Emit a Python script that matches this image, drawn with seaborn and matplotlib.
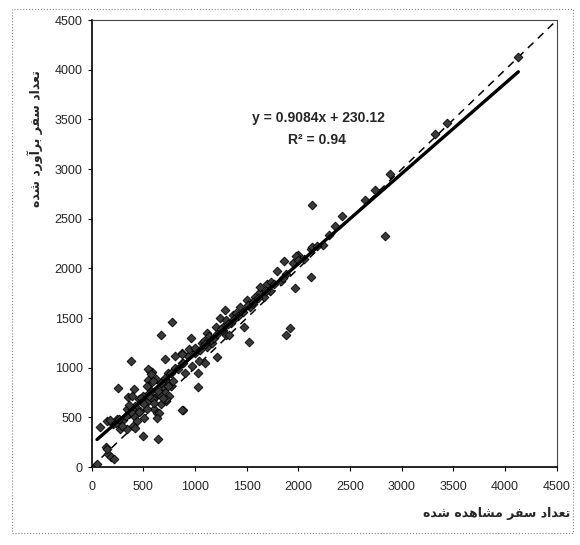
import numpy as np
import pandas as pd
import matplotlib
matplotlib.use('Agg')
import matplotlib.pyplot as plt
import seaborn as sns

# observed vs estimated trips
observed = [52, 140, 155, 184, 216, 153,
            79, 145, 210, 273, 404, 358, 342, 424, 474, 523, 571, 545, 624, 561,
            586, 739, 805, 871, 936, 1004, 1069, 1034, 967, 902, 837, 769, 703, 605,
            538, 472, 406, 308, 243, 177, 437, 503, 602, 668, 751,
            231, 263, 329, 343, 423, 395, 363, 458, 508, 540, 590, 605, 636, 719,
            655, 545, 594, 690, 739, 787, 879, 295, 378, 461, 494, 558,
            256, 351, 384, 709, 675, 781, 961, 493, 645, 878, 717, 650, 633, 1029,
            545, 576, 638, 536, 411, 394, 474, 686, 1031, 1098, 1212, 1117, 1166,
            1003, 887, 807, 771, 706, 736, 672, 1266, 1298,
            1120, 1086, 1287, 1237, 1367, 1478, 1302, 1203, 1331, 1524, 938, 873,
            872, 1004, 1136, 1267, 1400, 1531, 1663, 1729, 1828, 1878, 1434, 1500,
            1515, 1564, 1582, 1631, 1632, 1698, 1731, 1798,
            1150, 1180, 1250, 1350, 1420, 1460, 1100, 1050,
            1210, 1320, 1380, 1560, 1610, 1690, 1760, 1850,
            2129, 2837, 2122, 1966, 1877, 1923, 3434, 3318, 2888, 2739, 2640, 2425,
            2358, 2241, 2126, 1996, 1864, 2127, 1979, 4128,
            2050, 2180, 2300, 1950, 2000]
estimated = [35, 202, 134, 100, 82, 185,
             408, 459, 437, 385, 416, 536, 587, 619, 669, 718, 768, 880, 886, 972,
             955, 951, 1001, 1050, 1116, 1183, 1249, 1063, 1014, 948, 983, 815, 765, 700,
             651, 567, 518, 470, 488, 472, 466, 499, 582, 631, 713,
             440, 480, 515, 380, 395, 585, 620, 550, 635, 585, 685, 650, 548, 665,
             735, 820, 870, 818, 852, 866, 575, 418, 552, 688, 720, 718,
             799, 706, 1066, 1087, 1332, 1459, 1295, 313, 283, 576, 681, 548, 497, 809,
             989, 938, 767, 820, 789, 719, 698, 698, 945, 1046, 1111, 1214, 1248,
             1149, 1050, 1119, 951, 901, 815, 851, 1380, 1329,
             1350, 1265, 1583, 1500, 1530, 1409, 1481, 1415, 1328, 1256, 1184, 1151,
             1134, 1200, 1315, 1414, 1547, 1610, 1710, 1777, 1876, 1943, 1613, 1680,
             1629, 1646, 1712, 1762, 1813, 1845, 1861, 1979,
             1280, 1300, 1390, 1450, 1520, 1560, 1240, 1180,
             1340, 1440, 1490, 1660, 1700, 1770, 1840, 1900,
             2642, 2323, 1914, 1805, 1334, 1400, 3461, 3351, 2954, 2789, 2689, 2524,
             2424, 2240, 2192, 2137, 2079, 2216, 2127, 4131,
             2100, 2230, 2340, 2050, 2080]

# trendline printed on the chart
slope = 0.9084
intercept = 230.12

ticks = [0, 500, 1000, 1500, 2000, 2500, 3000, 3500, 4000, 4500]

xlabel_fa = 'تعداد سفر مشاهده شده'
ylabel_fa = 'تعداد سفر برآورد شده'

# minimal persian shaping (matplotlib has no arabic text layout)
DUAL = {'ب': (0xFE8F, 0xFE90, 0xFE91, 0xFE92), 'ت': (0xFE95, 0xFE96, 0xFE97, 0xFE98),
        'س': (0xFEB1, 0xFEB2, 0xFEB3, 0xFEB4), 'ش': (0xFEB5, 0xFEB6, 0xFEB7, 0xFEB8),
        'ع': (0xFEC9, 0xFECA, 0xFECB, 0xFECC), 'ف': (0xFED1, 0xFED2, 0xFED3, 0xFED4),
        'م': (0xFEE1, 0xFEE2, 0xFEE3, 0xFEE4), 'ه': (0xFEE9, 0xFEEA, 0xFEEB, 0xFEEC)}
RIGHT = {'ا': (0xFE8D, 0xFE8E), 'آ': (0xFE81, 0xFE82), 'د': (0xFEA9, 0xFEAA),
         'ر': (0xFEAD, 0xFEAE), 'و': (0xFEED, 0xFEEE)}


def shape(text):
    out = []
    for i, ch in enumerate(text):
        prev = text[i - 1] if i > 0 else ''
        nxt = text[i + 1] if i + 1 < len(text) else ''
        jp = prev in DUAL
        if ch in DUAL:
            jn = nxt in DUAL or nxt in RIGHT
            iso, fin, ini, med = DUAL[ch]
            c = med if (jp and jn) else fin if jp else ini if jn else iso
            out.append(chr(c))
        elif ch in RIGHT:
            iso, fin = RIGHT[ch]
            out.append(chr(fin if jp else iso))
        else:
            out.append(ch)
    return ''.join(reversed(out))


df = pd.DataFrame({'observed': observed, 'estimated': estimated})

sns.set_style('white')
plt.rcParams['font.family'] = ['Liberation Sans', 'DejaVu Sans']

fig = plt.figure(figsize=(5.8, 5.45), dpi=100)
ax = fig.add_axes([0.158, 0.143, 0.802, 0.82])

# y = x reference
diag = pd.DataFrame({'x': [0, 4500], 'y': [0, 4500]})
sns.lineplot(data=diag, x='x', y='y', ax=ax, color='black', lw=1.1,
             linestyle=(0, (5, 4)), zorder=2)

sns.scatterplot(data=df, x='observed', y='estimated', ax=ax, marker='D', s=20,
                color='#3a3a3a', edgecolor='black', linewidth=0.6, zorder=3)

# fitted trendline over the data range
xs = np.array([min(observed), max(observed)])
trend = pd.DataFrame({'x': xs, 'y': slope * xs + intercept})
sns.lineplot(data=trend, x='x', y='y', ax=ax, color='black', lw=2.4, zorder=4)

ax.set_xlim(0, 4500)
ax.set_ylim(0, 4500)
ax.set_xticks(ticks)
ax.set_yticks(ticks)
ax.set_xlabel('')
ax.set_ylabel('')
ax.tick_params(axis='both', labelsize=9, length=3, width=0.8, direction='out',
               color='black', left=True, bottom=True)
ax.tick_params(axis='x', pad=7)
for s in ['left', 'bottom']:
    ax.spines[s].set_color('black')
    ax.spines[s].set_linewidth(1.2)
for s in ['top', 'right']:
    ax.spines[s].set_color('#444444')
    ax.spines[s].set_linewidth(0.8)

ax.text(0.488, 0.781, 'y = 0.9084x + 230.12', transform=ax.transAxes,
        ha='center', va='center', fontsize=10, fontweight='bold')
ax.text(0.484, 0.732, 'R² = 0.94', transform=ax.transAxes,
        ha='center', va='center', fontsize=10, fontweight='bold')

fig.text(0.06, 0.745, shape(ylabel_fa), rotation=90, ha='center', va='center',
         fontsize=9, fontweight='bold', family=['DejaVu Sans'])
fig.text(0.983, 0.058, shape(xlabel_fa), ha='right', va='center',
         fontsize=9, fontweight='bold', family=['DejaVu Sans'])

# chart area border
border = plt.Rectangle((0.02, 0.022), 0.968, 0.962, transform=fig.transFigure,
                       fill=False, edgecolor='#888888', lw=0.8, linestyle=':')
fig.patches.append(border)

fig.savefig('out.png', dpi=100)
